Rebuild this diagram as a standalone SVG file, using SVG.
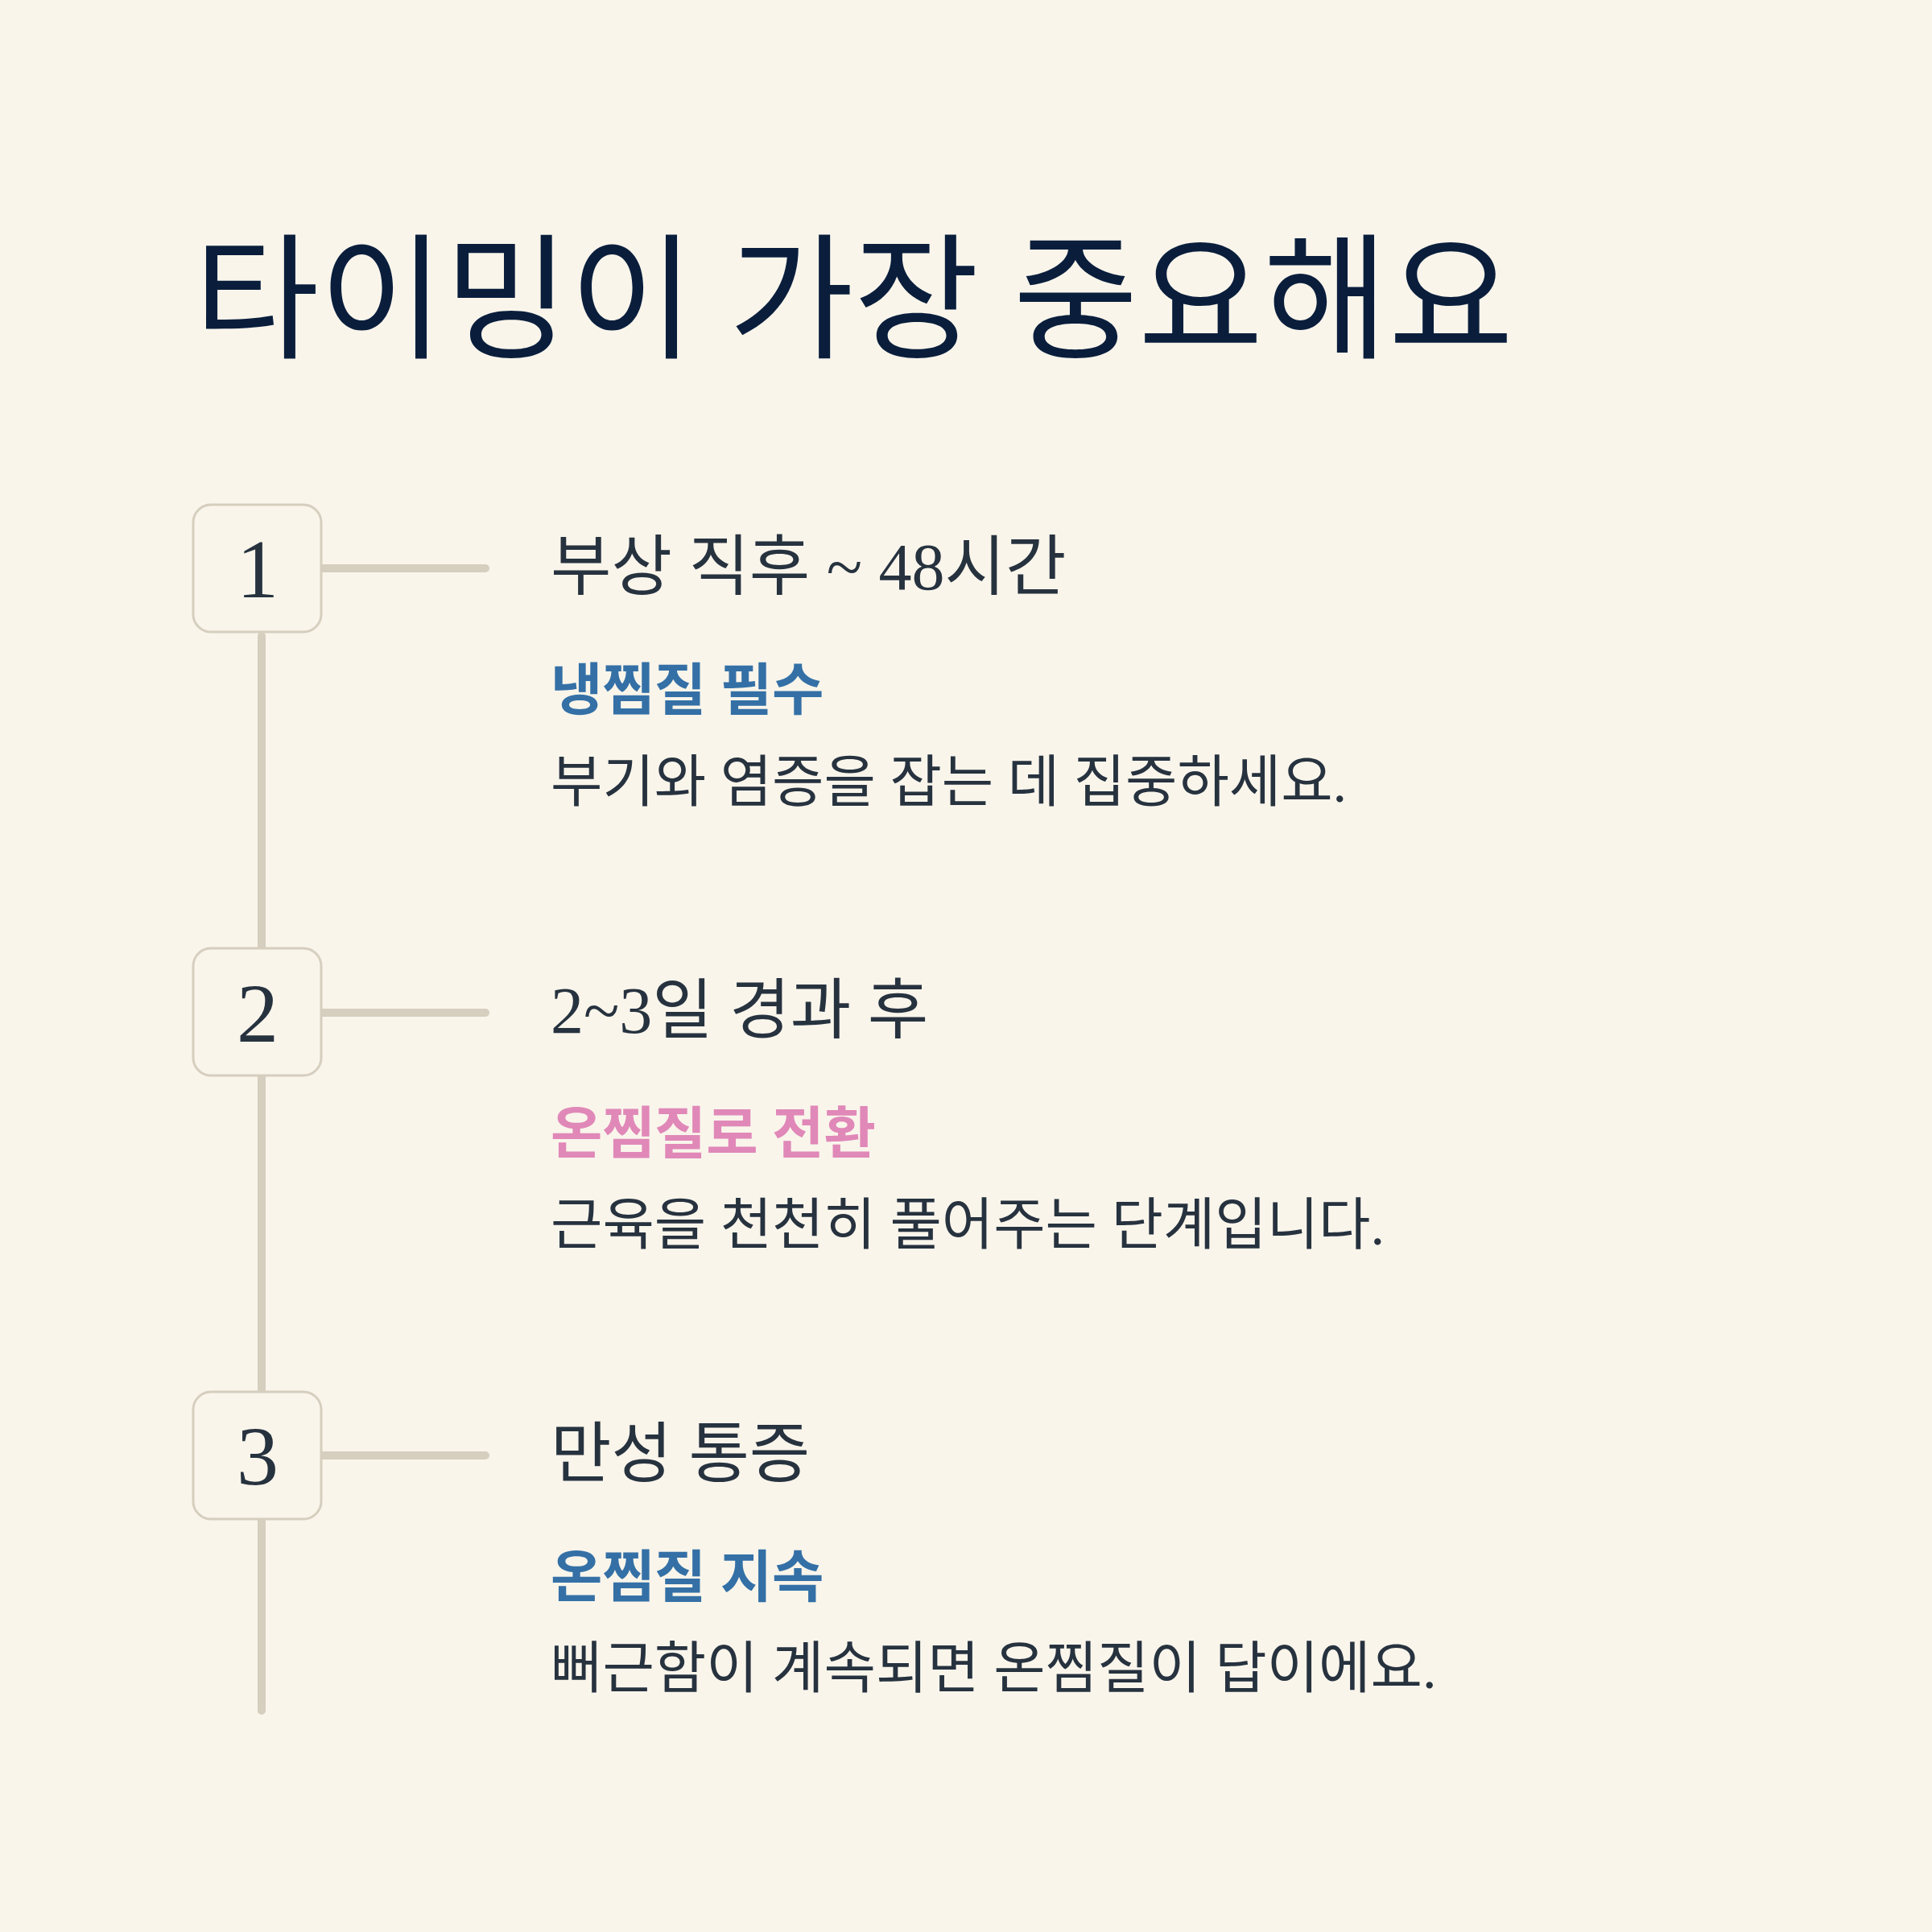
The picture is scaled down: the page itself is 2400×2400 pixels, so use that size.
<svg xmlns="http://www.w3.org/2000/svg" width="2400" height="2400" viewBox="0 0 2400 2400">
<style>
.bg{fill:#f9f5eb}
.box{fill:#f9f5eb;stroke:#d6cebe;stroke-width:3}
.ln{stroke:#d6cebe;stroke-width:10;stroke-linecap:round;fill:none}
.num{font-family:"Liberation Serif","Noto Sans CJK KR",serif;font-size:104px;fill:#27323f;text-anchor:middle}
.title{font-family:"Liberation Serif","Noto Sans CJK KR",sans-serif;font-size:169px;font-weight:400;fill:#0a1e3c}
.h{font-family:"Liberation Serif","Noto Sans CJK KR",sans-serif;font-size:82px;fill:#27323f}
.sub{font-family:"Liberation Serif","Noto Sans CJK KR",sans-serif;font-size:70px;font-weight:700}
.body{font-family:"Liberation Serif","Noto Sans CJK KR",sans-serif;font-size:70px;fill:#27323f}
.blue{fill:#3470a6}
.pink{fill:#e088b8}
</style>
<rect class="bg" x="0" y="0" width="2400" height="2400"/>
<text id="title" class="title" x="241" y="432">타이밍이 가장 중요해요</text>
<g id="connectors">
<line class="ln" x1="325" y1="790" x2="325" y2="2125"/>
<line class="ln" x1="398" y1="706" x2="603" y2="706"/>
<line class="ln" x1="398" y1="1258" x2="603" y2="1258"/>
<line class="ln" x1="398" y1="1808" x2="603" y2="1808"/>
</g>
<g id="node-1">
<rect class="box" x="240" y="627" width="159" height="158" rx="22"/>
<text class="num" x="320" y="742">1</text>
</g>
<g id="node-2">
<rect class="box" x="240" y="1178" width="159" height="158" rx="22"/>
<text class="num" x="320" y="1294">2</text>
</g>
<g id="node-3">
<rect class="box" x="240" y="1729" width="159" height="158" rx="22"/>
<text class="num" x="320" y="1844">3</text>
</g>
<g id="step-1">
<text class="h" x="684" y="732">부상 직후 ~ 48시간</text>
<text class="sub blue" x="684" y="882">냉찜질 필수</text>
<text class="body" x="684" y="996">부기와 염증을 잡는 데 집중하세요.</text>
</g>
<g id="step-2">
<text class="h" x="684" y="1283">2~3일 경과 후</text>
<text class="sub pink" x="684" y="1433">온찜질로 전환</text>
<text class="body" x="684" y="1546">근육을 천천히 풀어주는 단계입니다.</text>
</g>
<g id="step-3">
<text class="h" x="684" y="1834">만성 통증</text>
<text class="sub blue" x="684" y="1984">온찜질 지속</text>
<text class="body" x="684" y="2097">뻐근함이 계속되면 온찜질이 답이에요.</text>
</g>
</svg>
